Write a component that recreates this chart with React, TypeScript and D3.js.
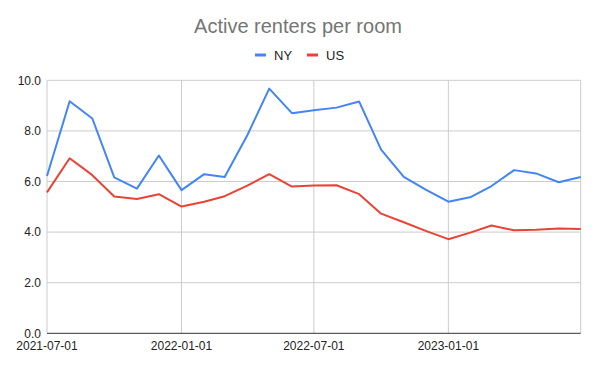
import React from "react";
import * as d3 from "d3";

const months: string[] = [
  "2021-07-01","2021-08-01","2021-09-01","2021-10-01","2021-11-01","2021-12-01",
  "2022-01-01","2022-02-01","2022-03-01","2022-04-01","2022-05-01","2022-06-01",
  "2022-07-01","2022-08-01","2022-09-01","2022-10-01","2022-11-01","2022-12-01",
  "2023-01-01","2023-02-01","2023-03-01","2023-04-01","2023-05-01","2023-06-01",
  "2023-07-01",
];
const nyValues: number[] = [
  6.22, 9.17, 8.49, 6.16, 5.72, 7.03, 5.66, 6.29, 6.18, 7.83, 9.67, 8.7,
  8.82, 8.92, 9.16, 7.26, 6.18, 5.68, 5.2, 5.39, 5.82, 6.45, 6.32, 5.97, 6.18,
];
const usValues: number[] = [
  5.57, 6.92, 6.25, 5.41, 5.31, 5.5, 5.01, 5.2, 5.42, 5.84, 6.29, 5.8,
  5.84, 5.85, 5.5, 4.73, 4.39, 4.05, 3.72, 3.99, 4.26, 4.07, 4.09, 4.14, 4.12,
];
const yTicks: number[] = [0, 2, 4, 6, 8, 10];
const xTickLabels: string[] = ["2021-07-01", "2022-01-01", "2022-07-01", "2023-01-01"];
const seriesNames: string[] = ["NY", "US"];
const seriesColors: string[] = ["#4285F4", "#EA4335"];

const W = 594, H = 368;
const left = 47, right = 580.7, top = 80.3, bottom = 333.3;
const font = "Arial, 'Liberation Sans', sans-serif";

export default function App() {
  const parse = d3.utcParse("%Y-%m-%d");
  const dates = months.map((m) => parse(m) as Date);
  const x = d3.scaleUtc()
    .domain([parse("2021-07-01") as Date, parse("2023-07-01") as Date])
    .range([left, right]);
  const y = d3.scaleLinear().domain([0, 10]).range([bottom, top]);
  const line = d3.line<[Date, number]>().x((d) => x(d[0])).y((d) => y(d[1]));
  const series = [nyValues, usValues];

  return (
    <svg width={W} height={H} style={{ position: "absolute", left: 0, top: 0 }}>
      <rect width={W} height={H} fill="#fff" />
      <text x={298} y={33} textAnchor="middle" fontFamily={font} fontSize={20} fill="#757575">
        Active renters per room
      </text>
      {/* legend */}
      {seriesNames.map((n, i) => {
        const lx = i === 0 ? 255 : 307;
        return (
          <g key={n}>
            <line x1={lx} x2={lx + 11} y1={55} y2={55} stroke={seriesColors[i]} strokeWidth={3} />
            <text x={lx + 19} y={59.5} fontFamily={font} fontSize={13} fill="#222">{n}</text>
          </g>
        );
      })}
      {/* grid */}
      {yTicks.filter((t) => t > 0).map((t) => (
        <line key={t} x1={left} x2={right} y1={y(t)} y2={y(t)} stroke="#ccc" strokeWidth={1} />
      ))}
      {xTickLabels.map((t) => (
        <line key={t} x1={x(parse(t) as Date)} x2={x(parse(t) as Date)} y1={top} y2={bottom} stroke="#ccc" strokeWidth={1} />
      ))}
      <line x1={right} x2={right} y1={top} y2={bottom} stroke="#ccc" strokeWidth={1} />
      {/* y labels */}
      {yTicks.map((t) => (
        <text key={t} x={41} y={y(t) + 4.3} textAnchor="end" fontFamily={font} fontSize={12} fill="#222">
          {t.toFixed(1)}
        </text>
      ))}
      {/* x labels */}
      {xTickLabels.map((t) => (
        <text key={t} x={x(parse(t) as Date)} y={349.5} textAnchor="middle" fontFamily={font} fontSize={12} fill="#222">
          {t}
        </text>
      ))}
      {/* lines */}
      {series.map((vals, i) => (
        <path
          key={i}
          d={line(dates.map((d, j) => [d, vals[j]] as [Date, number])) || ""}
          fill="none"
          stroke={seriesColors[i]}
          strokeWidth={2}
          strokeLinejoin="round"
        />
      ))}
      <line x1={left} x2={right} y1={bottom} y2={bottom} stroke="#333" strokeWidth={1} />
    </svg>
  );
}
